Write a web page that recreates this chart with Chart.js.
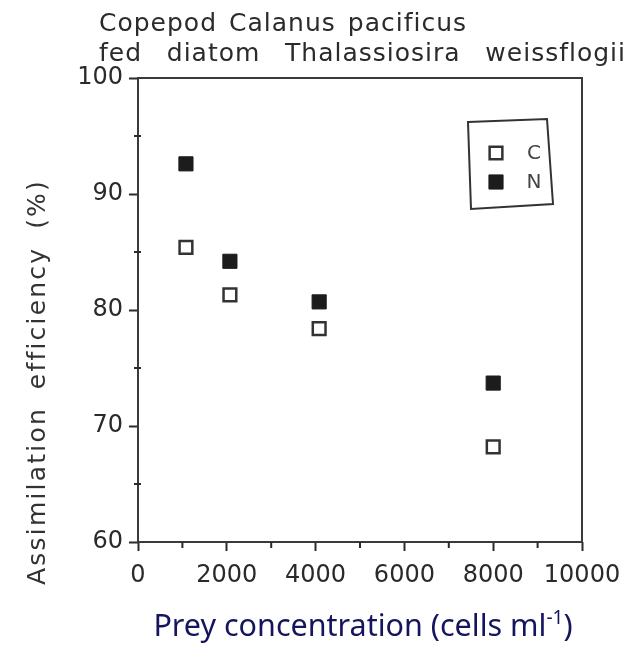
<!DOCTYPE html>
<html>
<head>
<meta charset="utf-8">
<script src="https://cdn.jsdelivr.net/npm/chart.js@4/dist/chart.umd.min.js"></script>
<style>
  html, body { margin: 0; padding: 0; background: #fff; }
  #wrap { width: 632px; height: 647px; }
</style>
</head>
<body>
<div id="wrap"><canvas id="c" width="632" height="647"></canvas></div>
<script>
// Prey concentration (cells per ml) and assimilation efficiencies (%)
const preyCells   = [1080, 2070, 4080, 8000];
const carbonEff   = [85.4, 81.3, 78.4, 68.2];
const nitrogenEff = [92.6, 84.2, 80.7, 73.7];

const seriesNames = ['C', 'N'];
const xTickValues = [0, 2000, 4000, 6000, 8000, 10000];
const xMinorTicks = [1000, 3000, 5000, 7000, 9000];
const yTickValues = [60, 70, 80, 90, 100];
const yMinorTicks = [65, 75, 85, 95];

const titleLines = ['Copepod Calanus pacificus', 'fed diatom Thalassiosira weissflogii'];
const yTitle = 'Assimilation efficiency (%)';
const xTitleMain = 'Prey concentration (cells ml';
const xTitleSup = '-1';
const xTitleEnd = ')';

const INK = '#2a2a2a';
const TICK_FONT = { family: 'DejaVu Sans', size: 24 };

// draws words spread so the line spans exactly `width` pixels
function spreadWords(ctx, text, x, y, width) {
  const words = text.split(' ');
  const widths = words.map(w => ctx.measureText(w).width);
  const total = widths.reduce((a, b) => a + b, 0);
  const gap = words.length > 1 ? (width - total) / (words.length - 1) : 0;
  let cx = x;
  words.forEach((w, i) => { ctx.fillText(w, cx, y); cx += widths[i] + gap; });
}

const decorations = {
  id: 'decorations',
  afterDraw(chart) {
    const { ctx, chartArea: a, scales } = chart;
    ctx.save();

    // plot frame
    ctx.strokeStyle = '#3a3a3a';
    ctx.lineWidth = 2;
    ctx.strokeRect(a.left, a.top, a.right - a.left, a.bottom - a.top);

    // minor ticks
    ctx.strokeStyle = INK;
    ctx.beginPath();
    xMinorTicks.forEach(v => {
      const px = scales.x.getPixelForValue(v);
      ctx.moveTo(px, a.bottom); ctx.lineTo(px, a.bottom + 6);
    });
    yMinorTicks.forEach(v => {
      const py = scales.y.getPixelForValue(v);
      ctx.moveTo(a.left - 4, py); ctx.lineTo(a.left + 3, py);
    });
    ctx.stroke();

    // heading
    ctx.fillStyle = '#2b2b2b';
    ctx.font = '25px "DejaVu Sans"';
    ctx.letterSpacing = '1px';
    ctx.textBaseline = 'alphabetic';
    ctx.textAlign = 'left';
    spreadWords(ctx, titleLines[0], 99, 31, 368);
    spreadWords(ctx, titleLines[1], 99, 61, 527);

    // y axis title
    ctx.save();
    ctx.translate(38, 585);
    ctx.rotate(-Math.PI / 2);
    ctx.font = '25px "DejaVu Sans"';
    ctx.letterSpacing = '2.2px';
    ctx.fillStyle = '#333';
    ctx.textBaseline = 'middle';
    spreadWords(ctx, yTitle, 0, 0, 406);
    ctx.restore();
    ctx.letterSpacing = '0px';

    // x axis title with superscript
    ctx.fillStyle = '#15155e';
    ctx.textBaseline = 'alphabetic';
    const bigF = '30.5px "Noto Sans"', supF = '19px "Noto Sans"';
    ctx.font = bigF;
    const mainW = ctx.measureText(xTitleMain).width;
    const endW = ctx.measureText(xTitleEnd).width;
    ctx.font = supF;
    const supW = ctx.measureText(xTitleSup).width;
    const totalW = mainW + supW + endW;
    let tx = 363 - totalW / 2;
    const ty = 636;
    ctx.font = bigF;
    ctx.fillText(xTitleMain, tx, ty);
    tx += mainW;
    ctx.font = supF;
    ctx.fillText(xTitleSup, tx, ty - 12);
    tx += supW;
    ctx.font = bigF;
    ctx.fillText(xTitleEnd, tx, ty);

    // legend box, drawn as a slightly irregular frame
    ctx.strokeStyle = '#333';
    ctx.lineWidth = 2;
    ctx.beginPath();
    ctx.moveTo(468, 122);
    ctx.lineTo(547, 119);
    ctx.lineTo(553, 204);
    ctx.lineTo(471, 209);
    ctx.closePath();
    ctx.stroke();

    const rows = [153, 182];
    chart.data.datasets.forEach((ds, i) => {
      ctx.fillStyle = ds.backgroundColor;
      ctx.strokeStyle = ds.borderColor;
      ctx.lineWidth = ds.borderWidth;
      Chart.helpers.drawPoint(ctx, {
        pointStyle: 'rect', radius: ds.pointRadius, rotation: 0, borderWidth: ds.borderWidth
      }, 496, rows[i]);
      ctx.fillStyle = '#444';
      ctx.font = '20px "DejaVu Sans"';
      ctx.textAlign = 'center';
      ctx.textBaseline = 'middle';
      ctx.fillText(ds.label, 534, rows[i] + 1);
    });

    ctx.restore();
  }
};

new Chart(document.getElementById('c'), {
  type: 'scatter',
  data: {
    datasets: [
      {
        label: seriesNames[0],
        data: preyCells.map((x, i) => ({ x, y: carbonEff[i] })),
        pointStyle: 'rect',
        pointRadius: 9,
        backgroundColor: '#ffffff',
        borderColor: '#333333',
        borderWidth: 2.5
      },
      {
        label: seriesNames[1],
        data: preyCells.map((x, i) => ({ x, y: nitrogenEff[i] })),
        pointStyle: 'rect',
        pointRadius: 10,
        backgroundColor: '#1c1c1c',
        borderColor: '#1c1c1c',
        borderWidth: 1
      }
    ]
  },
  options: {
    responsive: false,
    devicePixelRatio: 1,
    animation: false,
    events: [],
    layout: { padding: { top: 78, right: 50, left: 0, bottom: 0 } },
    plugins: { legend: { display: false }, tooltip: { enabled: false } },
    scales: {
      x: {
        type: 'linear',
        min: 0, max: 10000,
        afterBuildTicks: s => { s.ticks = xTickValues.map(v => ({ value: v })); },
        afterFit: s => { s.height = 105; },
        border: { display: false },
        grid: { drawOnChartArea: false, drawTicks: true, tickLength: 9, tickColor: INK, tickWidth: 2 },
        ticks: { font: TICK_FONT, color: INK, padding: 10, autoSkip: false, maxRotation: 0,
                 callback: v => String(v) }
      },
      y: {
        type: 'linear',
        min: 60, max: 100,
        afterBuildTicks: s => { s.ticks = yTickValues.map(v => ({ value: v })); },
        afterFit: s => { s.width = 138; },
        border: { display: false },
        grid: { drawOnChartArea: false, drawTicks: true, tickLength: 9, tickColor: INK, tickWidth: 2 },
        ticks: { font: TICK_FONT, color: INK, padding: 6, autoSkip: false,
                 callback: v => String(v) }
      }
    }
  },
  plugins: [decorations]
});
</script>
</body>
</html>
